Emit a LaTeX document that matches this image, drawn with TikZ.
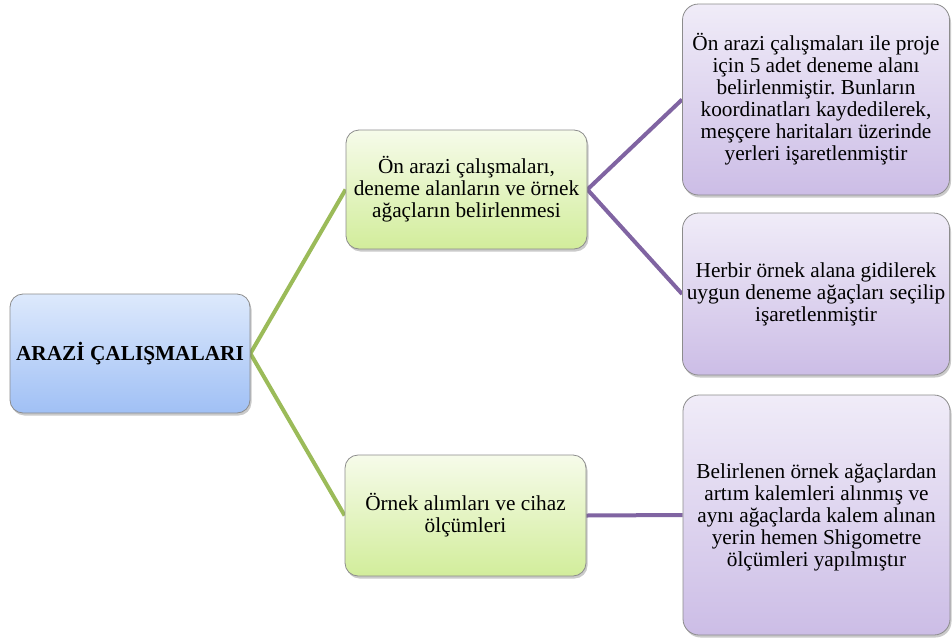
\documentclass[tikz,border=0pt]{standalone}
\usepackage{fontspec}
\setmainfont{Liberation Serif}
\usetikzlibrary{shadows,backgrounds}
\frenchspacing
\definecolor{boxline}{HTML}{8C8C8C}
\definecolor{gline}{HTML}{9BBB59}
\definecolor{pline}{HTML}{8064A2}
\tikzset{
  base/.style={draw=boxline, line width=0.8pt, rounded corners=13pt, align=center,
    inner sep=2pt, font=\fontsize{21.3}{22}\selectfont,
    drop shadow={shadow xshift=1.5pt, shadow yshift=-2.5pt, opacity=0.35, fill=black!60}},
  rootbox/.style={base, top color={rgb,255:red,221;green,233;blue,252}, bottom color={rgb,255:red,160;green,192;blue,245}},
  midbox/.style={base, top color={rgb,255:red,246;green,251;blue,234}, bottom color={rgb,255:red,210;green,237;blue,155}},
  leafbox/.style={base, rounded corners=16pt, top color={rgb,255:red,240;green,236;blue,248}, bottom color={rgb,255:red,204;green,189;blue,230}},
  gconn/.style={draw=gline, line width=4pt},
  pconn/.style={draw=pline, line width=4pt},
}
\begin{document}
\begin{tikzpicture}[x=1pt,y=-1pt]
\useasboundingbox (0,0) rectangle (952,637);
\node[rootbox, minimum width=240pt, minimum height=119pt] (root) at (130,353.5)
  {\textbf{ARAZİ ÇALIŞMALARI}};
\node[midbox, minimum width=241pt, minimum height=119pt] (m1) at (466.5,189.5)
  {Ön arazi çalışmaları,\\deneme alanların ve örnek\\ağaçların belirlenmesi};
\node[midbox, minimum width=241pt, minimum height=121pt] (m2) at (465.5,515.5)
  {Örnek alımları ve cihaz\\ölçümleri};
\node[leafbox, minimum width=267pt, minimum height=191pt] (r1) at (816,99.5)
  {Ön arazi çalışmaları ile proje\\için 5 adet deneme alanı\\belirlenmiştir. Bunların\\koordinatları kaydedilerek,\\meşçere haritaları üzerinde\\yerleri işaretlenmiştir};
\node[leafbox, minimum width=267pt, minimum height=162pt] (r2) at (816,294)
  {Herbir örnek alana gidilerek\\uygun deneme ağaçları seçilip\\işaretlenmiştir};
\node[leafbox, minimum width=267pt, minimum height=240pt, text depth=-6pt] (r3) at (816.5,515)
  {Belirlenen örnek ağaçlardan\\artım kalemleri alınmış ve\\aynı ağaçlarda kalem alınan\\yerin hemen Shigometre\\ölçümleri yapılmıştır};
\begin{scope}[on background layer]
\draw[gconn] (root.east) -- (m1.west);
\draw[gconn] (root.east) -- (m2.west);
\draw[pconn] (m1.east) -- (r1.west);
\draw[pconn] (m1.east) -- (r2.west);
\draw[pconn] (m2.east) -- (r3.west);
\end{scope}
\end{tikzpicture}
\end{document}
